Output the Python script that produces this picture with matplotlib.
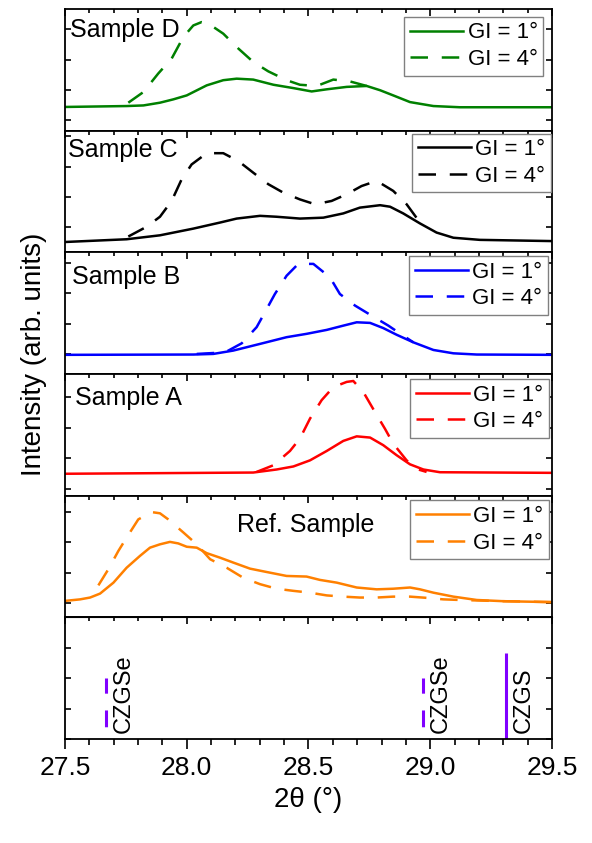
import numpy as np
import matplotlib
matplotlib.use("Agg")
import matplotlib.pyplot as plt
from matplotlib.ticker import MultipleLocator, FormatStrFormatter

plt.rcParams['font.family'] = ['Liberation Sans', 'DejaVu Sans']

# --- Sample D ---
d1_x = [27.50, 27.753, 27.822, 27.890, 27.945, 28.000, 28.082, 28.150, 28.205, 28.273, 28.356,
        28.438, 28.513, 28.575, 28.657, 28.739, 28.794, 28.848, 28.917, 29.013, 29.122, 29.50]
d1_y = [0.78, 0.81, 0.83, 0.92, 1.03, 1.16, 1.49, 1.66, 1.71, 1.68, 1.51,
        1.40, 1.29, 1.36, 1.44, 1.47, 1.33, 1.16, 0.94, 0.81, 0.77, 0.77]
d4_x = [27.760, 27.822, 27.883, 27.938, 27.986, 28.027, 28.061, 28.089, 28.150, 28.212, 28.273,
        28.335, 28.410, 28.465, 28.534, 28.602, 28.670, 28.739]
d4_y = [0.92, 1.27, 1.88, 2.37, 3.08, 3.46, 3.57, 3.52, 3.19, 2.70, 2.26,
        1.95, 1.66, 1.51, 1.47, 1.68, 1.62, 1.47]

# --- Sample C ---
c1_x = [27.50, 27.753, 27.890, 28.027, 28.137, 28.205, 28.301, 28.369, 28.465, 28.561, 28.643,
        28.711, 28.794, 28.835, 28.889, 28.958, 29.026, 29.095, 29.204, 29.50]
c1_y = [0.34, 0.43, 0.56, 0.78, 0.98, 1.11, 1.20, 1.17, 1.11, 1.14, 1.28,
        1.47, 1.55, 1.50, 1.28, 0.95, 0.65, 0.48, 0.41, 0.37]
c4_x = [27.760, 27.835, 27.890, 27.938, 27.979, 28.020, 28.082, 28.150, 28.212, 28.273, 28.335,
        28.397, 28.465, 28.527, 28.595, 28.657, 28.718, 28.780, 28.848, 28.903, 28.958, 28.985]
c4_y = [0.52, 0.84, 1.17, 1.69, 2.40, 2.89, 3.26, 3.26, 3.00, 2.62, 2.24,
        1.96, 1.74, 1.58, 1.69, 1.91, 2.18, 2.35, 2.02, 1.58, 0.98, 0.87]

# --- Sample B ---
b1_x = [27.50, 28.027, 28.109, 28.191, 28.301, 28.410, 28.492, 28.575, 28.643, 28.698, 28.753,
        28.807, 28.862, 28.931, 29.013, 29.095, 29.191, 29.50]
b1_y = [0.63, 0.64, 0.66, 0.77, 0.99, 1.21, 1.32, 1.45, 1.59, 1.70, 1.68,
        1.51, 1.29, 1.04, 0.79, 0.68, 0.64, 0.63]
b4_x = [28.041, 28.157, 28.226, 28.287, 28.321, 28.362, 28.410, 28.458, 28.520, 28.588, 28.629,
        28.691, 28.759, 28.828, 28.889, 28.931]
b4_y = [0.66, 0.71, 1.01, 1.54, 2.03, 2.63, 3.23, 3.62, 3.62, 3.18, 2.63,
        2.25, 1.92, 1.59, 1.26, 1.04]

# --- Sample A ---
a1_x = [27.50, 28.273, 28.369, 28.438, 28.506, 28.575, 28.643, 28.698, 28.753, 28.807, 28.862,
        28.917, 28.972, 29.040, 29.50]
a1_y = [0.72, 0.76, 0.86, 0.96, 1.16, 1.47, 1.80, 1.95, 1.91, 1.66, 1.33,
        1.03, 0.86, 0.77, 0.75]
a4_x = [28.287, 28.356, 28.424, 28.465, 28.506, 28.554, 28.602, 28.657, 28.684, 28.725, 28.773,
        28.814, 28.848, 28.903, 28.951, 28.985]
a4_y = [0.78, 1.00, 1.47, 1.88, 2.53, 3.14, 3.57, 3.74, 3.77, 3.41, 2.75,
        2.20, 1.71, 1.16, 0.86, 0.78]

# --- Reference sample ---
r1_x = [27.50, 27.562, 27.603, 27.644, 27.699, 27.753, 27.808, 27.849, 27.890, 27.931, 27.965,
        28.000, 28.041, 28.082, 28.137, 28.191, 28.260, 28.328, 28.410, 28.492, 28.547, 28.616,
        28.698, 28.780, 28.848, 28.917, 28.958, 29.013, 29.095, 29.191, 29.300, 29.50]
r1_y = [0.54, 0.59, 0.65, 0.78, 1.14, 1.63, 2.02, 2.29, 2.40, 2.48, 2.43,
        2.32, 2.29, 2.11, 1.96, 1.80, 1.60, 1.49, 1.36, 1.34, 1.23, 1.14,
        0.98, 0.92, 0.94, 0.98, 0.92, 0.81, 0.68, 0.57, 0.53, 0.50]
r4_x = [27.637, 27.678, 27.719, 27.753, 27.801, 27.856, 27.890, 27.924, 27.986, 28.041, 28.096,
        28.164, 28.232, 28.301, 28.369, 28.438, 28.506, 28.575, 28.643, 28.711, 28.780, 28.848,
        28.917, 28.985, 29.054, 29.122, 29.300, 29.50]
r4_y = [1.05, 1.58, 2.18, 2.62, 3.22, 3.46, 3.42, 3.22, 2.79, 2.40, 1.91,
        1.63, 1.30, 1.09, 0.94, 0.87, 0.81, 0.72, 0.68, 0.65, 0.65, 0.68,
        0.68, 0.64, 0.59, 0.57, 0.53, 0.50]

# --- reference phase positions ---
stick_x = [27.668, 28.969, 29.311]
stick_h = [2.00, 2.00, 2.82]
stick_names = ['CZGSe', 'CZGSe', 'CZGS']
stick_dashed = [True, True, False]

legend_labels = ['GI = 1°', 'GI = 4°']

panels = [
    ('Sample D', '#008000', (d1_x, d1_y), (d4_x, d4_y)),
    ('Sample C', '#000000', (c1_x, c1_y), (c4_x, c4_y)),
    ('Sample B', '#0000FF', (b1_x, b1_y), (b4_x, b4_y)),
    ('Sample A', '#FF0000', (a1_x, a1_y), (a4_x, a4_y)),
    ('Ref. Sample', '#FF8000', (r1_x, r1_y), (r4_x, r4_y)),
]
# where the inner y ticks sit, and where each label / legend goes
tick_offsets = [0.34, 0.82, 0.66, 0.23, 0.46]
label_pos = [(0.010, 0.772, 'left'), (0.006, 0.784, 'left'), (0.014, 0.737, 'left'),
             (0.020, 0.748, 'left'), (0.495, 0.704, 'center')]
legend_anchor = [(0.982, 0.935), (0.998, 0.975), (0.992, 0.970), (0.994, 0.959), (0.994, 0.961)]

purple = '#8000FF'
dash = (0, (7, 5.5))

fig, axes = plt.subplots(6, 1, figsize=(5.92, 8.43), dpi=100, sharex=True)
fig.subplots_adjust(left=0.1098, right=0.9324, top=0.9893, bottom=0.1234, hspace=0)

for ax in axes:
    ax.set_xlim(27.5, 29.5)
    ax.set_ylim(0, 4)
    ax.xaxis.set_major_locator(MultipleLocator(0.5))
    ax.xaxis.set_minor_locator(MultipleLocator(0.1))
    ax.tick_params(axis='x', which='both', direction='in', top=True, bottom=False,
                   labelbottom=False, width=1.2)
    ax.tick_params(axis='x', which='major', length=5)
    ax.tick_params(axis='x', which='minor', length=3)
    ax.tick_params(axis='y', which='both', direction='in', left=True, right=True,
                   labelleft=False, length=4, width=1.2)
    for s in ax.spines.values():
        s.set_linewidth(1.3)

for i, (name, color, solid, dashed) in enumerate(panels):
    ax = axes[i]
    ax.set_yticks(np.arange(tick_offsets[i], 4, 1.0))
    ax.plot(dashed[0], dashed[1], color=color, lw=1.8, linestyle=dash, label=legend_labels[1])
    ax.plot(solid[0], solid[1], color=color, lw=1.8, label=legend_labels[0])
    lx, ly, ha = label_pos[i]
    ax.text(lx, ly, name, transform=ax.transAxes, ha=ha, va='baseline', fontsize=18)
    h, l = ax.get_legend_handles_labels()
    leg = ax.legend(h[::-1], l[::-1], loc='upper right', bbox_to_anchor=legend_anchor[i],
                    borderaxespad=0, fontsize=16, handlelength=2.4, handletextpad=0.2,
                    borderpad=0.25, labelspacing=0.25, fancybox=False, framealpha=1)
    leg.get_frame().set_edgecolor('#808080')
    leg.get_frame().set_linewidth(1.0)

# bottom panel: reference diffraction positions
ax = axes[5]
ax.set_yticks([0, 1, 2, 3])
for x, hgt, nm, dsh in zip(stick_x, stick_h, stick_names, stick_dashed):
    ls = (7, (5.5, 5.5)) if dsh else '-'
    ax.vlines(x, 0, hgt, colors=purple, linewidth=2.2, linestyles=[ls])
    ax.text(x + 0.075, 0.2, nm, rotation=90, ha='center', va='bottom', fontsize=17)

# labelled axis with outward ticks at the bottom, inward ticks on top
ax.tick_params(axis='x', which='both', direction='out', bottom=True, top=False,
               labelbottom=True, labelsize=19, pad=5)
ax.tick_params(axis='x', which='major', length=7)
ax.tick_params(axis='x', which='minor', length=4)
ax.xaxis.set_major_formatter(FormatStrFormatter('%.1f'))
ax.set_xlabel('2θ (°)', fontsize=20, labelpad=5)

top = ax.secondary_xaxis('top')
top.xaxis.set_major_locator(MultipleLocator(0.5))
top.xaxis.set_minor_locator(MultipleLocator(0.1))
top.tick_params(axis='x', which='both', direction='in', labeltop=False, width=1.2)
top.tick_params(axis='x', which='major', length=5)
top.tick_params(axis='x', which='minor', length=3)

fig.text(0.058, 0.58, 'Intensity (arb. units)', rotation=90, ha='center', va='center', fontsize=20)

fig.savefig('out.png', dpi=100)
